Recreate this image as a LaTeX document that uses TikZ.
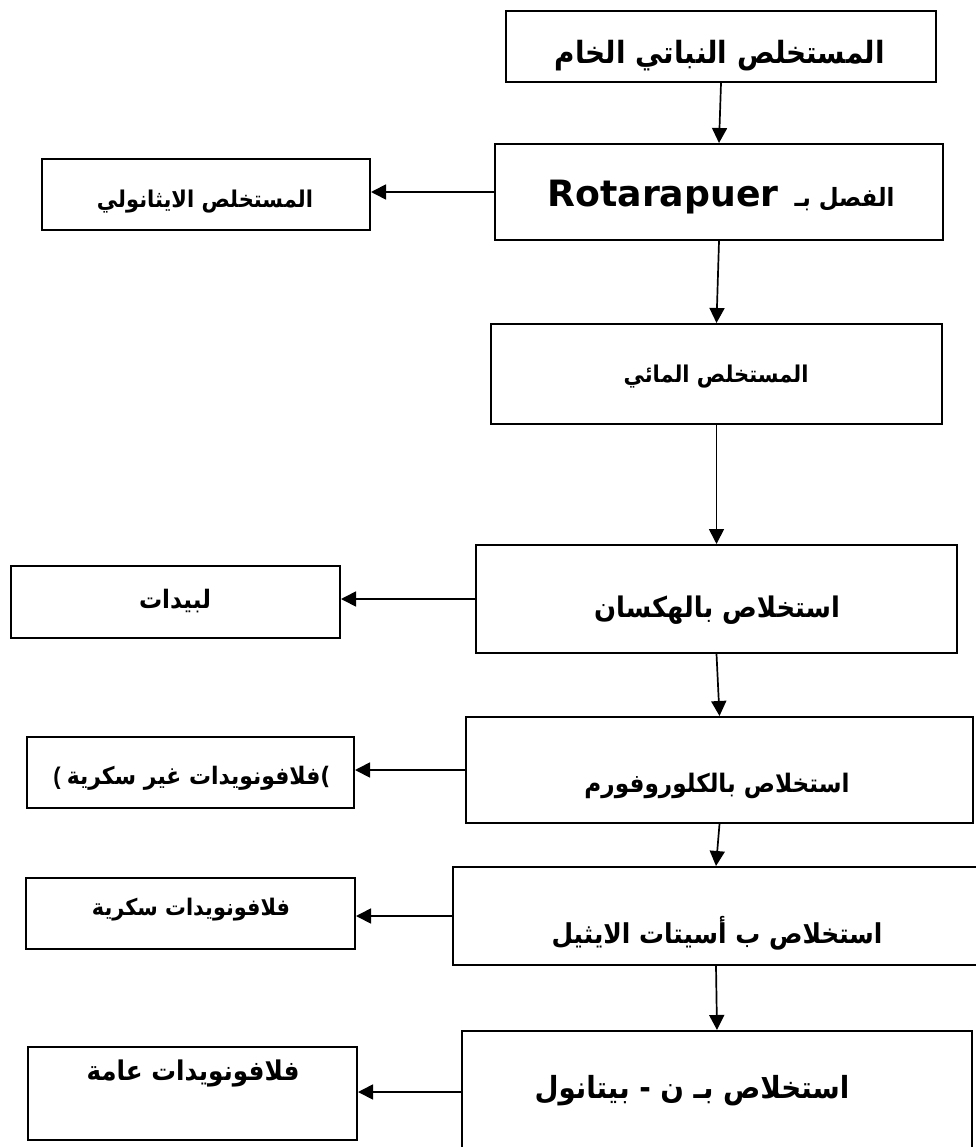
\documentclass[tikz,border=0pt]{standalone}
\usepackage{fontspec}
\usepackage{graphicx}
\setmainfont{Liberation Sans}
\newfontfamily\latinfont{DejaVu Sans}
\newfontfamily\arabicfont[Script=Arabic]{DejaVu Sans}
\TeXXeTstate=1
\usetikzlibrary{arrows.meta}

% bold Arabic text scaled to a given width (in pt)
\newcommand{\artext}[2]{\scalebox{1}[1.1]{\resizebox{#1pt}{!}{\arabicfont\bfseries #2}}}

\begin{document}
\begin{tikzpicture}[x=1pt,y=-1pt,
  box/.style={draw, line width=2pt, inner sep=0pt, anchor=north west},
  lbl/.style={inner sep=0pt, anchor=center},
  arr/.style={-{Triangle[length=15pt,width=15pt]}, line width=1.7pt}]
\useasboundingbox (0,0) rectangle (975,1147);

% main column
\node[box, minimum width=430pt, minimum height=71pt]  (crude) at (505,10)   {};
\node[box, minimum width=448pt, minimum height=96pt]  (sep)   at (494,143)  {};
\node[box, minimum width=451pt, minimum height=100pt] (aq)    at (490,323)  {};
\node[box, minimum width=481pt, minimum height=108pt] (hex)   at (475,544)  {};
\node[box, minimum width=507pt, minimum height=106pt] (chl)   at (465,716)  {};
\node[box, minimum width=526pt, minimum height=98pt]  (eta)   at (452,866)  {};
\node[box, minimum width=510pt, minimum height=122pt] (but)   at (461,1030) {};

% side products
\node[box, minimum width=328pt, minimum height=71pt]  (eth)   at (41,158)   {};
\node[box, minimum width=329pt, minimum height=72pt]  (lip)   at (10,565)   {};
\node[box, minimum width=327pt, minimum height=71pt]  (nsug)  at (26,736)   {};
\node[box, minimum width=329pt, minimum height=71pt]  (sug)   at (25,877)   {};
\node[box, minimum width=329pt, minimum height=93pt]  (gen)   at (27,1046)  {};

% labels
\node[lbl] (crudetxt) at (720,56) {\artext{330}{\beginR المستخلص النباتي الخام\endR}};
\node[lbl, anchor=base] (septxt) at (721,207)
  {\resizebox{231pt}{!}{\latinfont\bfseries Rotarapuer}\hspace{16pt}\artext{100}{\beginR الفصل بـ\endR}};
\node[lbl] (aqtxt)   at (716,377)  {\artext{185}{\beginR المستخلص المائي\endR}};
\node[lbl] (hextxt)  at (717,610)  {\artext{246}{\beginR استخلاص بالهكسان\endR}};
\node[lbl] (chltxt)  at (717,786)  {\artext{265}{\beginR استخلاص بالكلوروفورم\endR}};
\node[lbl] (etatxt)  at (717,933)  {\artext{331}{\beginR استخلاص ب أسيتات الايثيل\endR}};
\node[lbl] (buttxt)  at (692,1091) {\artext{315}{\beginR استخلاص بـ  ن  -  بيتانول\endR}};

\node[lbl] (ethtxt)  at (205,202)  {\artext{216}{\beginR المستخلص الايثانولي\endR}};
\node[lbl] (liptxt)  at (175,601)  {\artext{72}{\beginR لبيدات\endR}};
\node[lbl] (nsugtxt) at (192,778)
  {\scalebox{1}[1.1]{\resizebox{277pt}{!}{\bfseries(\ \arabicfont\beginR فلافونويدات غير سكرية\endR)}}};
\node[lbl] (sugtxt)  at (191,910)  {\artext{198}{\beginR فلافونويدات سكرية\endR}};
\node[lbl] (gentxt)  at (193,1073) {\artext{213}{\beginR فلافونويدات عامة\endR}};

% flow downwards
\draw[arr] (crude.south) -- (sep.north);
\draw[arr] (sep.south)   -- (aq.north);
\draw[arr] (aq.south)    -- (hex.north);
\draw[arr] (hex.south)   -- (chl.north);
\draw[arr] (chl.south)   -- (eta.north);
\draw[arr] (eta.south)   -- (but.north);

% fractions to the side
\draw[arr] (sep.west) -- (sep.west -| eth.east);
\draw[arr] (hex.west) -- (hex.west -| lip.east);
\draw[arr] (chl.west) -- (chl.west -| nsug.east);
\draw[arr] (eta.west) -- (eta.west -| sug.east);
\draw[arr] (but.west) -- (but.west -| gen.east);
\end{tikzpicture}
\end{document}
